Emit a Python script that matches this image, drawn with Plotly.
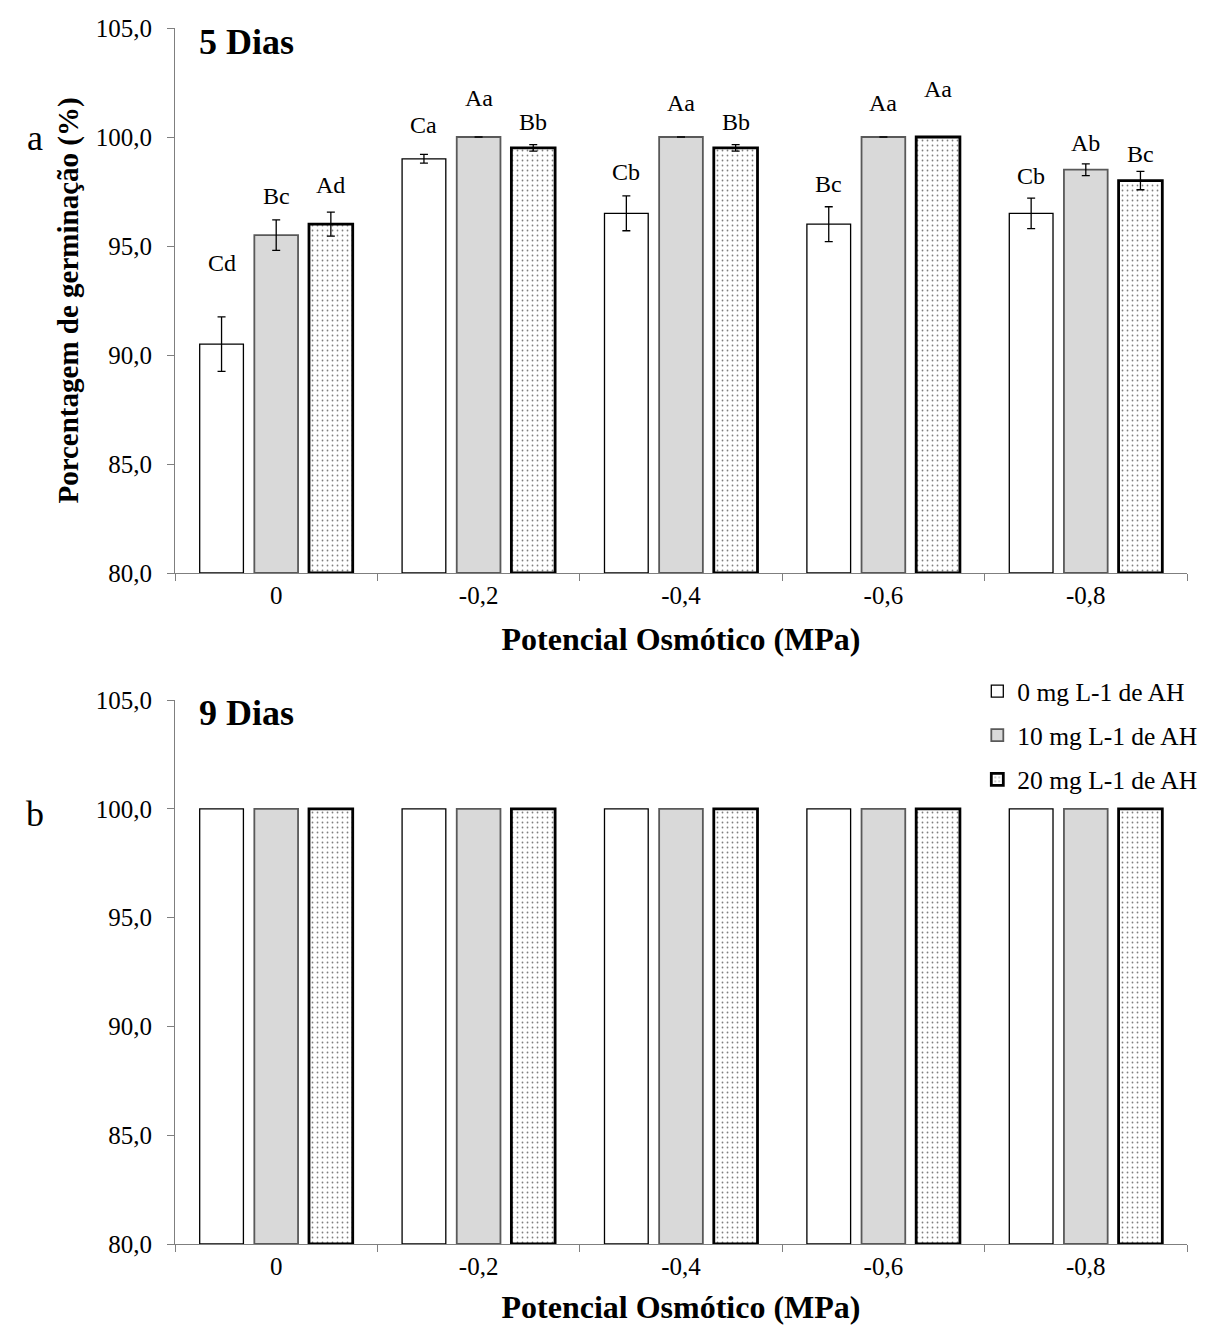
import plotly.graph_objects as go

categories = ["0", "-0,2", "-0,4", "-0,6", "-0,8"]
series_names = ["0 mg L-1 de AH", "10 mg L-1 de AH", "20 mg L-1 de AH"]

# 5 dias
d5_values = [
    [90.5, 99.0, 96.5, 96.0, 96.5],
    [95.5, 100.0, 100.0, 100.0, 98.5],
    [96.0, 99.5, 99.5, 100.0, 98.0],
]
d5_errors = [
    [1.25, 0.2, 0.8, 0.8, 0.7],
    [0.7, 0.0, 0.0, 0.0, 0.27],
    [0.55, 0.15, 0.15, 0.0, 0.42],
]
d5_letters = [
    ["Cd", "Ca", "Cb", "Bc", "Cb"],
    ["Bc", "Aa", "Aa", "Aa", "Ab"],
    ["Ad", "Bb", "Bb", "Aa", "Bc"],
]
d5_label_y = [
    [94.2, 100.55, 98.4, 97.85, 98.2],
    [97.3, 101.8, 101.56, 101.56, 99.74],
    [97.8, 100.7, 100.7, 102.2, 99.2],
]

# 9 dias
d9_values = [
    [100.0, 100.0, 100.0, 100.0, 100.0],
    [100.0, 100.0, 100.0, 100.0, 100.0],
    [100.0, 100.0, 100.0, 100.0, 100.0],
]

FONT = "Liberation Serif"
fills = ["#ffffff", "#d9d9d9", "#ffffff"]
lines = ["#000000", "#595959", "#000000"]
lwidths = [1.3, 1.8, 2.8]

fig = go.Figure()

def add_bars(values, errors, xa, ya, showlegend):
    for j in range(3):
        kw = {}
        if j == 2:
            kw["marker_pattern"] = dict(shape=".", fgcolor="#000000", bgcolor="#ffffff",
                                        size=5, solidity=0.1)
        err = None
        if errors is not None:
            err = dict(type="data", array=errors[j], visible=True, color="#000000",
                       thickness=1.3, width=4)
        fig.add_trace(go.Bar(
            x=categories, y=[v - 80 for v in values[j]], base=80,
            name=series_names[j], legendgroup=f"g{j}", showlegend=showlegend,
            marker=dict(color=fills[j], line=dict(color=lines[j], width=lwidths[j])),
            error_y=err, xaxis=xa, yaxis=ya, **kw))

add_bars(d5_values, d5_errors, "x", "y", False)
add_bars(d9_values, None, "x2", "y2", True)

slot = (1 - 0.19) / 3
for j in range(3):
    for i in range(5):
        fig.add_annotation(x=i + (j - 1) * slot, y=d5_label_y[j][i], xref="x", yref="y",
                           text=d5_letters[j][i], showarrow=False,
                           font=dict(family=FONT, size=24, color="#000"))

axis_common = dict(showline=True, linecolor="#7f7f7f", linewidth=1.2, mirror=False,
                   showgrid=False, zeroline=False, automargin=False,
                   tickfont=dict(family=FONT, size=25, color="#000"))

def xtitle(standoff):
    return dict(text="<b>Potencial Osmótico (MPa)</b>",
                font=dict(family=FONT, size=32, color="#000"), standoff=standoff)

xdom = [175 / 1212, 1187 / 1212]
H = 1325
fig.update_layout(
    width=1212, height=1325,
    margin=dict(l=0, r=0, t=0, b=0),
    paper_bgcolor="white", plot_bgcolor="white",
    barmode="group", bargap=0.19, bargroupgap=0.2,
    separators=",.",
    xaxis=dict(domain=xdom, anchor="y", type="category", tickson="boundaries",
               ticks="outside", ticklen=7, tickcolor="#7f7f7f",
               title=xtitle(19), **axis_common),
    yaxis=dict(domain=[1 - 573 / H, 1 - 28 / H], anchor="x", range=[80, 105],
               tickvals=[80, 85, 90, 95, 100, 105], tickformat=".1f",
               ticks="outside", ticklen=7, tickcolor="#7f7f7f", ticklabelstandoff=10,
               title=dict(text="<b>Porcentagem de germinação (%)</b>",
                          font=dict(family=FONT, size=29, color="#000"), standoff=8),
               **axis_common),
    xaxis2=dict(domain=xdom, anchor="y2", type="category", tickson="boundaries",
                ticks="outside", ticklen=7, tickcolor="#7f7f7f",
                title=xtitle(33), **axis_common),
    yaxis2=dict(domain=[1 - 1244 / H, 1 - 700 / H], anchor="x2", range=[80, 105],
                tickvals=[80, 85, 90, 95, 100, 105], tickformat=".1f",
                ticks="outside", ticklen=7, tickcolor="#7f7f7f", ticklabelstandoff=10,
                **axis_common),
    legend=dict(x=0.992, xanchor="right", y=1 - 668 / H, yanchor="top",
                font=dict(family=FONT, size=25.5, color="#000"),
                tracegroupgap=8, itemwidth=30, bgcolor="rgba(0,0,0,0)"),
    showlegend=True,
)

def paper_text(x, y, text, size, xanchor):
    fig.add_annotation(x=x / 1212, y=1 - y / H, xref="paper", yref="paper",
                       xanchor=xanchor, yanchor="middle", text=text, showarrow=False,
                       font=dict(family=FONT, size=size, color="#000"))

paper_text(197, 42, "<b>5 Dias</b>", 36, "left")
paper_text(197, 713, "<b>9 Dias</b>", 36, "left")
paper_text(35, 138, "a", 36, "center")
paper_text(35, 814, "b", 36, "center")

fig.write_html("out.html")
